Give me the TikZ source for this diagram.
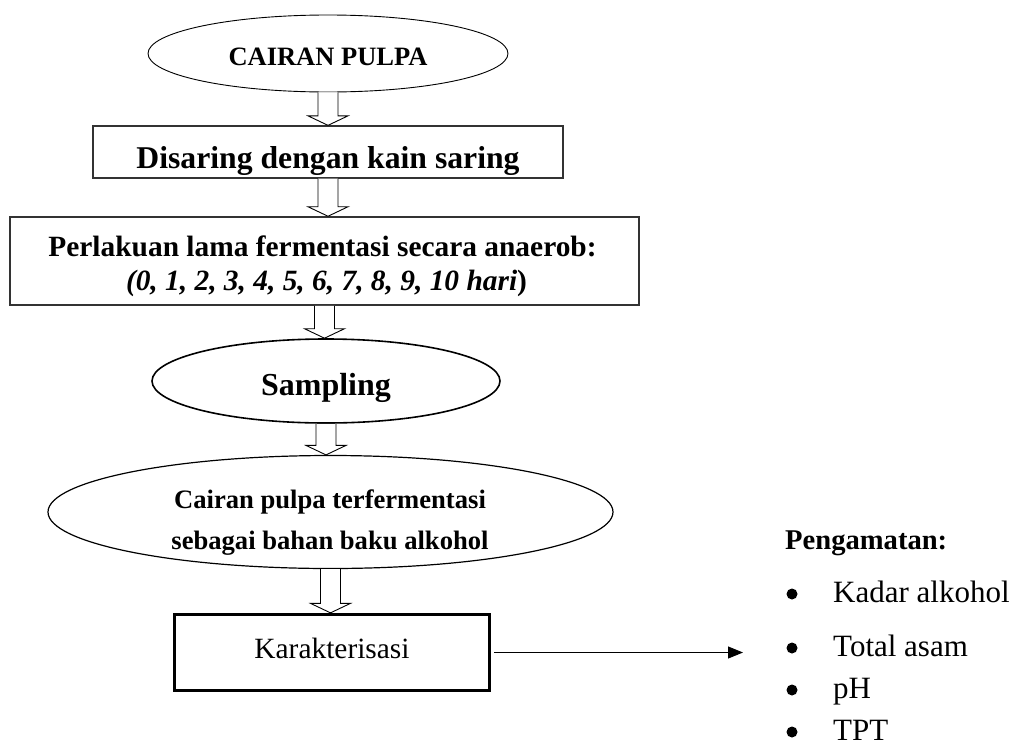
\documentclass[tikz,border=0pt]{standalone}
\usepackage{fontspec}
\setmainfont{Liberation Serif}
\usetikzlibrary{shapes.geometric,arrows.meta,calc}

\newcommand{\panahblok}[2]{%
  \draw[blok] let \p1=(#1.south), \p2=(#2.north) in
    (\x1-10,\y1) -- (\x1-10,\y2+9.5) -- (\x1-20,\y2+9.5) -- (\x1,\y2)
    -- (\x1+20,\y2+9.5) -- (\x1+10,\y2+9.5) -- (\x1+10,\y1);}

\begin{document}
\begin{tikzpicture}[x=1pt,y=-1pt,
    kotak/.style={draw=black!80,line width=1.3pt,inner sep=0pt},
    lonjong/.style={ellipse,draw,inner sep=0pt},
    blok/.style={draw,line width=0.9pt,fill=white,line join=miter},
    judul/.style={anchor=base,font=\bfseries\fontsize{29.4}{35}\selectfont},
    isi/.style={anchor=base,font=\bfseries\fontsize{26.6}{32}\selectfont},
    butir/.style={anchor=base west,inner sep=0pt,font=\fontsize{31}{37}\selectfont},
    titik/.style={circle,fill,inner sep=0pt,minimum size=11pt}]
    \useasboundingbox (0,0) rectangle (1014,747);

    \node[lonjong,line width=0.9pt,minimum width=360pt,minimum height=77pt,
      text height=23pt,text depth=0pt,font=\bfseries\fontsize{26.5}{32}\selectfont]
      (cairan) at (328,53.5) {CAIRAN PULPA};
    \node[kotak,minimum width=470pt,minimum height=52pt,text height=32pt,text depth=0pt,
      font=\bfseries\fontsize{31.7}{38}\selectfont]
      (saring) at (328,152) {Disaring dengan kain saring};
    \node[kotak,line width=1.5pt,minimum width=629pt,minimum height=88pt]
      (perlakuan) at (324.5,261) {};
    \node[judul] (perlakuan1) at (322.5,256) {Perlakuan lama fermentasi secara anaerob:};
    \node[judul] (perlakuan2) at (326.5,290) {\textit{(0, 1, 2, 3, 4, 5, 6, 7, 8, 9, 10 hari})};
    \node[lonjong,line width=1.6pt,minimum width=348pt,minimum height=84pt,
      text height=28pt,text depth=0pt,font=\bfseries\fontsize{32}{38}\selectfont]
      (sampling) at (326,381) {Sampling};
    \node[lonjong,line width=1.2pt,minimum width=565pt,minimum height=113pt]
      (hasil) at (330.5,512) {};
    \node[isi] (hasil1) at (330,508) {Cairan pulpa terfermentasi};
    \node[isi] (hasil2) at (330,549) {sebagai bahan baku alkohol};
    \node[kotak,draw=black,line width=3.3pt,minimum width=315pt,minimum height=76pt,
      text height=11pt,text depth=0pt,font=\fontsize{29.4}{35}\selectfont]
      (karakter) at (332,652.5) {Karakterisasi};

    \panahblok{cairan}{saring}
    \panahblok{saring}{perlakuan}
    \panahblok{perlakuan}{sampling}
    \panahblok{sampling}{hasil}
    \panahblok{hasil}{karakter}

    \coordinate (ujung) at (743,652.5);
    \draw[line width=0.9pt,-{Triangle[length=15pt,width=12pt]}]
      ([xshift=3pt]karakter.east) -- (ujung);

    \node[anchor=base west,inner sep=0pt,font=\bfseries\fontsize{28.6}{34}\selectfont]
      (amati) at (785,549) {Pengamatan:};
    \node[titik] (t1) at (792,594) {};
    \node[titik] (t2) at (792,648) {};
    \node[titik] (t3) at (792,690) {};
    \node[titik] (t4) at (792,732) {};
    \node[butir] (b1) at (833,602) {Kadar alkohol};
    \node[butir] (b2) at (833,656) {Total asam};
    \node[butir] (b3) at (833,698) {pH};
    \node[butir] (b4) at (833,740) {TPT};
  \end{tikzpicture}
\end{document}
